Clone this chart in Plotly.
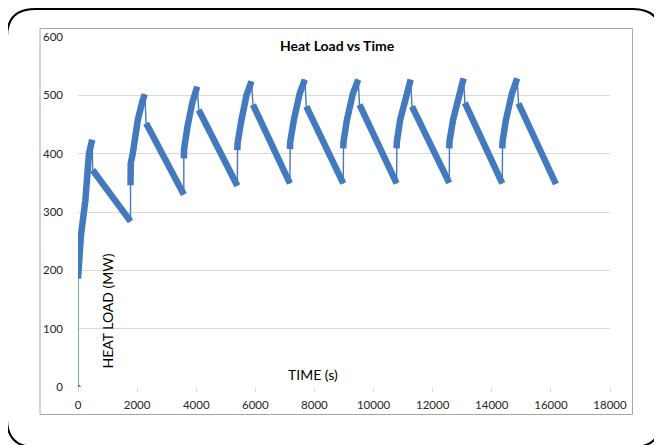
import plotly.graph_objects as go

# ---- data ----
start_time = [0]
start_load = [0]

rise_time = [
    [0, 100, 250, 370, 480],
    [1777, 1785, 1855, 2024, 2180, 2260],
    [3580, 3590, 3700, 3865, 4033],
    [5390, 5400, 5520, 5700, 5870],
    [7170, 7180, 7300, 7500, 7675],
    [8975, 8985, 9100, 9300, 9480],
    [10780, 10790, 10900, 11100, 11255],
    [12560, 12570, 12690, 12880, 13045],
    [14355, 14365, 14480, 14680, 14860],
]
rise_load = [
    [186, 260, 320, 400, 424],
    [346, 384, 401, 458, 490, 502],
    [392, 408, 445, 487, 515],
    [406, 418, 455, 500, 524],
    [408, 420, 457, 503, 527],
    [409, 421, 458, 503, 527],
    [409, 421, 458, 503, 527],
    [409, 421, 458, 503, 529],
    [409, 421, 458, 503, 529],
]
decline_time = [
    [495, 1777],
    [2305, 3580],
    [4085, 5390],
    [5920, 7170],
    [7725, 8975],
    [9525, 10780],
    [11300, 12560],
    [13090, 14355],
    [14905, 16170],
]
decline_load = [
    [372, 284],
    [452, 330],
    [475, 345],
    [484, 349],
    [481, 349],
    [484, 349],
    [481, 350],
    [487, 349],
    [486, 348],
]

x_ticks = list(range(0, 18001, 2000))
y_ticks = list(range(0, 601, 100))

# ---- build traces ----
thin_x, thin_y = list(start_time), list(start_load)
thick_x, thick_y = [], []
for rt, rl, dt, dl in zip(rise_time, rise_load, decline_time, decline_load):
    thin_x += rt + dt
    thin_y += rl + dl
    thick_x += rt + [None] + dt + [None]
    thick_y += rl + [None] + dl + [None]

BLUE = "#4279BF"
FONT = "Lato, 'Open Sans', sans-serif"

fig = go.Figure()
fig.add_trace(go.Scatter(x=thin_x, y=thin_y, mode="lines",
                         line=dict(color=BLUE, width=1.4), hoverinfo="skip"))
fig.add_trace(go.Scatter(x=thick_x, y=thick_y, mode="lines",
                         line=dict(color=BLUE, width=6.5), connectgaps=False))
fig.add_trace(go.Scatter(x=start_time, y=start_load, mode="markers",
                         marker=dict(color=BLUE, size=5, symbol="diamond")))

# page has an 8px body margin; figure sized to fit the window inside it
OFF = 8
W, H = 662 - OFF, 445 - OFF
L, T = 70, 29
PW, PH = 532, 350
R, B = W - L - PW, H - T - PH


def px(page_x):
    return (page_x - OFF - L) / PW


def py(page_y):
    return (H - B - (page_y - OFF)) / PH


shapes = []
# inner gray chart frame
shapes.append(dict(type="rect", xref="paper", yref="paper",
                   x0=px(40), x1=px(632.5), y0=py(414.5), y1=py(28.5),
                   line=dict(color="#A6A6A6", width=1), layer="below"))
# outer rounded black frame
x0, x1, y0, y1, r = 7, 661, 9, 447, 28
path = (f"M {px(x0 + r)},{py(y0)} L {px(x1 - r)},{py(y0)} "
        f"Q {px(x1)},{py(y0)} {px(x1)},{py(y0 + r)} "
        f"L {px(x1)},{py(y1 - r)} Q {px(x1)},{py(y1)} {px(x1 - r)},{py(y1)} "
        f"L {px(x0 + r)},{py(y1)} Q {px(x0)},{py(y1)} {px(x0)},{py(y1 - r)} "
        f"L {px(x0)},{py(y0 + r)} Q {px(x0)},{py(y0)} {px(x0 + r)},{py(y0)} Z")
shapes.append(dict(type="path", xref="paper", yref="paper", path=path,
                   line=dict(color="#000000", width=2)))

common = dict(xref="paper", yref="paper", showarrow=False,
              xanchor="center", yanchor="middle")
annotations = [
    dict(text="<b>Heat Load vs Time</b>", x=px(337), y=py(45),
         font=dict(family=FONT, size=14, color="#000000"), **common),
    dict(text="HEAT LOAD (MW)", x=px(106.5), y=py(311), textangle=-90,
         font=dict(family=FONT, size=14, color="#000000"), **common),
    dict(text="TIME (s)", x=px(313), y=py(374),
         font=dict(family=FONT, size=14, color="#000000"), **common),
]

fig.update_layout(
    width=W, height=H,
    margin=dict(l=L, r=R, t=T, b=B, pad=0),
    paper_bgcolor="white", plot_bgcolor="white",
    showlegend=False,
    shapes=shapes, annotations=annotations,
    font=dict(family=FONT, size=11.5, color="#262626"),
)
fig.update_xaxes(range=[0, 18000], tickvals=x_ticks,
                 ticktext=[str(v) for v in x_ticks],
                 showgrid=False, zeroline=False, showline=False,
                 ticks="outside", ticklen=4, tickcolor="#D9D9D9",
                 ticklabelstandoff=3, fixedrange=True)
fig.update_yaxes(range=[0, 600], tickvals=y_ticks,
                 ticktext=[str(v) for v in y_ticks],
                 showgrid=True, gridcolor="#D9D9D9", gridwidth=1,
                 zeroline=False, showline=False, ticks="",
                 ticklabelstandoff=14, fixedrange=True)

fig.write_html("out.html")
